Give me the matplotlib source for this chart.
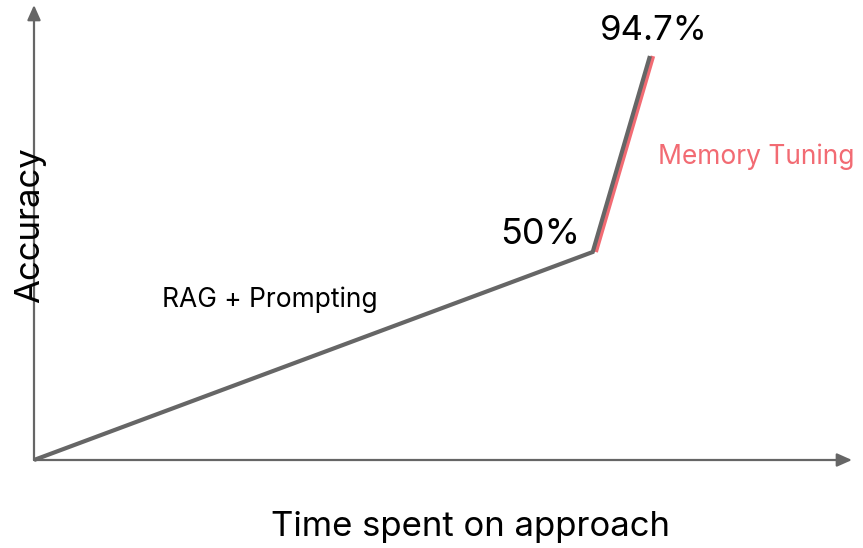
import matplotlib
matplotlib.use("Agg")
import matplotlib.pyplot as plt
import matplotlib.transforms as mtransforms

# data (time in arbitrary units, accuracy in the chart's own visual scale)
time = [0, 68.3, 75.3]
accuracy = [0, 50, 97.1]
point_labels = ["50%", "94.7%"]
mem_time = [68.3, 75.3]
mem_acc = [50, 97.1]

GRAY = "#666666"
PINK = "#F26B73"
plt.rcParams["font.family"] = ["Inter", "DejaVu Sans"]

W, H = 863, 548
fig = plt.figure(figsize=(W / 100, H / 100), dpi=100)
ax = fig.add_axes([34 / W, (H - 460) / H, (852 - 34) / W, (460 - 5) / H])
ax.set_xlim(0, 100)
ax.set_ylim(0, 455 / 4.16)
ax.axis("off")

# axes with arrow heads
for tip in [(0, 1), (1, 0)]:
    ax.annotate("", xy=tip, xytext=(0, 0), xycoords="axes fraction",
                arrowprops=dict(arrowstyle="-|>,head_length=0.9,head_width=0.4",
                                color=GRAY, lw=1.6, shrinkA=0, shrinkB=0))

# memory tuning highlight, shifted a few px right
shift = mtransforms.offset_copy(ax.transData, fig=fig, x=3, y=0, units="dots")
ax.plot(mem_time, mem_acc, color=PINK, lw=3.2, transform=shift,
        solid_capstyle="butt", clip_on=False)
ax.plot(time, accuracy, color=GRAY, lw=3, solid_joinstyle="miter",
        solid_capstyle="butt", clip_on=False)

# labels
ax.text(time[1] - 1.5, accuracy[1] + 4.3, point_labels[0], fontsize=26,
        ha="right", va="center")
ax.text(time[2] + 0.5, accuracy[2] + 6.0, point_labels[1], fontsize=25,
        ha="center", va="center")
ax.text(15.6, 38.5, "RAG + Prompting", fontsize=19, ha="left", va="center")
ax.text(76.3, 72.8, "Memory Tuning", fontsize=19, ha="left", va="center",
        color=PINK)

fig.text(30 / W, 1 - 225 / H, "Accuracy", fontsize=25, rotation=90,
         ha="center", va="center")
fig.text(470 / W, 1 - 527 / H, "Time spent on approach", fontsize=25,
         ha="center", va="center")

fig.savefig("out.png", dpi=100)
